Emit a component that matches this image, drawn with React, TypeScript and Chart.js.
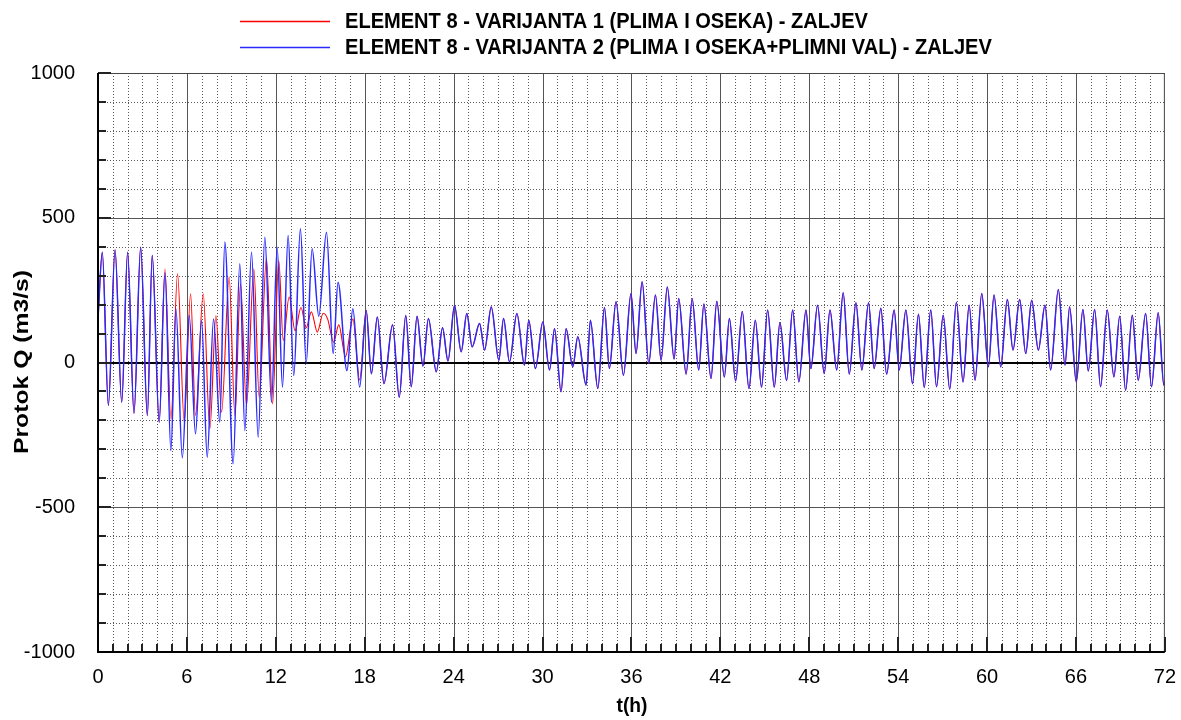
import React, { useEffect, useRef } from "react";
import { Chart, registerables } from "chart.js";
Chart.register(...registerables);

// ---- data (extrema) ----
const blueT = [
  0, 0.29, 0.7, 1.15, 1.6, 2.0, 2.43, 2.88, 3.33, 3.66, 4.13, 4.52, 4.92, 5.26, 5.69, 6.16, 6.58, 6.99, 7.37, 7.8,
  8.22, 8.56, 9.12, 9.57, 9.91, 10.36, 10.81, 11.26, 11.71, 12.09, 12.45, 12.83, 13.21, 13.66, 14.05, 14.45, 14.9, 15.42, 15.87, 16.2,
  16.8, 17.2, 17.66, 18.1, 18.45, 18.85, 19.3, 19.88, 20.33, 20.77, 21.14, 21.53, 21.93, 22.3, 22.83, 23.25, 23.62, 24.06, 24.51, 24.89,
  25.25, 25.75, 26.09, 26.54, 27.05, 27.37, 27.77, 28.27, 28.78, 29.07, 29.52, 30.02, 30.47, 30.81, 31.25, 31.59, 32.04, 32.38, 32.94, 33.23,
  33.73, 34.18, 34.51, 34.96, 35.46, 35.97, 36.31, 36.72, 37.17, 37.62, 38.0, 38.42, 38.88, 39.19, 39.69, 40.1, 40.54, 40.89, 41.37, 41.76,
  42.27, 42.61, 43.03, 43.48, 43.93, 44.36, 44.78, 45.19, 45.64, 46.02, 46.47, 46.88, 47.3, 47.78, 48.11, 48.56, 49.01, 49.4, 49.85, 50.29,
  50.7, 51.15, 51.55, 52.0, 52.38, 52.83, 53.22, 53.73, 54.07, 54.52, 54.97, 55.37, 55.76, 56.2, 56.59, 57.04, 57.48, 57.93, 58.38, 58.79,
  59.19, 59.64, 60.09, 60.47, 60.92, 61.37, 61.75, 62.2, 62.61, 63.01, 63.46, 63.91, 64.29, 64.81, 65.26, 65.57, 66.02, 66.47, 66.83, 67.26,
  67.66, 68.11, 68.56, 68.95, 69.35, 69.8, 70.2, 70.7, 71.1, 71.55, 71.93, 72.0,
];
const blueQ = [
  150, 381, -148, 389, -137, 381, -175, 398, -183, 370, -206, 310, -304, 185, -329, 162, -246, 145, -327, 150,
  -206, 416, -350, 341, -235, 381, -258, 433, -137, 398, -85, 439, -45, 462, -3, 393, 160, 450, 31, 277,
  -28, 186, -85, 180, -39, 157, -73, 130, -120, 162, -84, 160, -12, 152, -32, 120, 5, 197, 37, 169,
  54, 135, 43, 192, 8, 152, 2, 169, -9, 146, -21, 140, -26, 117, -101, 117, -15, 89, -78, 146,
  -90, 190, -21, 210, -44, 238, 31, 279, -3, 233, 8, 261, 12, 221, -40, 220, -26, 202, -55, 211,
  -50, 152, -64, 176, -90, 146, -85, 181, -85, 138, -62, 181, -67, 181, -21, 198, -38, 181, -26, 241,
  -40, 206, -26, 206, -21, 187, -40, 181, -26, 181, -73, 167, -86, 181, -84, 163, -92, 208, -67, 198,
  -61, 238, -15, 233, -15, 218, 43, 218, 31, 215, 43, 198, -26, 252, -9, 192, -67, 183, -29, 183,
  -84, 181, -50, 160, -96, 163, -61, 169, -84, 172, -78, -65,
];
// red series where it differs from the blue one (about 4.5 h to 18 h)
const redMidT = [
  4.52, 4.92, 5.37, 5.82, 6.25, 6.58, 7.1, 7.55, 7.96, 8.34, 8.85, 9.24, 9.62, 10.02, 10.52, 10.88, 11.37, 11.78, 12.2, 12.5,
  12.9, 13.3, 13.7, 14.05, 14.4, 14.8, 15.2, 15.5, 15.9, 16.25, 16.7, 17.2, 17.66,
];
const redMidQ = [
  323, -195, 306, -205, 237, -183, 237, -229, 162, -172, 295, -183, 272, -148, 323, -120, 360, -143, 352, 76,
  226, 110, 190, 120, 175, 105, 170, 150, 70, 130, 20, 150, -60,
];

const legendLabels = [
  "ELEMENT 8 - VARIJANTA 1 (PLIMA I OSEKA) - ZALJEV",
  "ELEMENT 8 - VARIJANTA 2 (PLIMA I OSEKA+PLIMNI VAL) - ZALJEV",
];
const seriesColors = ["#ff0000", "#2a2aff"];
const xTitle = "t(h)";
const yTitle = "Protok Q (m3/s)";
const xMin = 0, xMax = 72, xStep = 6, xMinorStep = 1;
const yMin = -1000, yMax = 1000, yStep = 500, yMinorStep = 100;

const FONT = '"Liberation Sans", Arial, Helvetica, sans-serif';

export default function App() {
  const ref = useRef<HTMLCanvasElement>(null);

  useEffect(() => {
    if (!ref.current) return;
    const blue = blueT.map((t, i) => ({ x: t, y: blueQ[i] }));
    const redMid = redMidT.map((t, i) => ({ x: t, y: redMidQ[i] }));
    const red = [
      ...blue.filter((p) => p.x < 4.5),
      ...redMid,
      ...blue.filter((p) => p.x > 18),
    ];

    const gridPlugin = {
      id: "customGrid",
      beforeDatasetsDraw(chart: any) {
        const { ctx, chartArea, scales } = chart;
        const { left, right, top, bottom } = chartArea;
        const xs = scales.x, ys = scales.y;
        ctx.save();
        ctx.lineWidth = 1;
        ctx.strokeStyle = "#5a5a5a";
        ctx.setLineDash([1, 2]);
        for (let h = xMin + xMinorStep; h < xMax; h += xMinorStep) {
          if (h % xStep === 0) continue;
          const px = Math.round(xs.getPixelForValue(h)) + 0.5;
          ctx.beginPath(); ctx.moveTo(px, top); ctx.lineTo(px, bottom); ctx.stroke();
        }
        for (let v = yMin + yMinorStep; v < yMax; v += yMinorStep) {
          if (v % yStep === 0) continue;
          const py = Math.round(ys.getPixelForValue(v)) + 0.5;
          ctx.beginPath(); ctx.moveTo(left, py); ctx.lineTo(right, py); ctx.stroke();
        }
        ctx.setLineDash([]);
        ctx.strokeStyle = "#555555";
        for (let h = xMin + xStep; h < xMax; h += xStep) {
          const px = Math.round(xs.getPixelForValue(h)) + 0.5;
          ctx.beginPath(); ctx.moveTo(px, top); ctx.lineTo(px, bottom); ctx.stroke();
        }
        for (let v = yMin + yStep; v < yMax; v += yStep) {
          if (v === 0) continue;
          const py = Math.round(ys.getPixelForValue(v)) + 0.5;
          ctx.beginPath(); ctx.moveTo(left, py); ctx.lineTo(right, py); ctx.stroke();
        }
        ctx.strokeStyle = "#000";
        ctx.lineWidth = 2;
        const pz = Math.round(ys.getPixelForValue(0));
        ctx.beginPath(); ctx.moveTo(left, pz); ctx.lineTo(right, pz); ctx.stroke();
        ctx.restore();
      },
      afterDatasetsDraw(chart: any) {
        const { ctx, chartArea, scales } = chart;
        const { left, right, top, bottom } = chartArea;
        const xs = scales.x, ys = scales.y;
        ctx.save();
        ctx.strokeStyle = "#444";
        ctx.lineWidth = 1;
        ctx.beginPath();
        ctx.moveTo(left, top + 0.5); ctx.lineTo(right, top + 0.5);
        ctx.moveTo(right - 0.5, top); ctx.lineTo(right - 0.5, bottom);
        ctx.stroke();
        ctx.strokeStyle = "#222";
        ctx.lineWidth = 2;
        for (let v = yMin; v <= yMax; v += yMinorStep) {
          const py = Math.round(ys.getPixelForValue(v));
          const len = v % yStep === 0 ? 13 : 8;
          ctx.beginPath(); ctx.moveTo(left, py); ctx.lineTo(left + len, py); ctx.stroke();
        }
        for (let h = xMin; h <= xMax; h += xMinorStep) {
          const px = Math.round(xs.getPixelForValue(h));
          const len = h % xStep === 0 ? 15 : 8;
          ctx.beginPath(); ctx.moveTo(px, bottom); ctx.lineTo(px, bottom - len); ctx.stroke();
        }
        ctx.strokeStyle = "#000";
        ctx.lineWidth = 2;
        ctx.beginPath();
        ctx.moveTo(left, top); ctx.lineTo(left, bottom + 1);
        ctx.moveTo(left - 1, bottom); ctx.lineTo(right, bottom);
        ctx.stroke();
        ctx.restore();
      },
      afterDraw(chart: any) {
        const { ctx } = chart;
        ctx.save();
        ctx.fillStyle = "#000";
        ctx.font = `bold 22px ${FONT}`;
        const w0 = ctx.measureText(legendLabels[0]).width;
        const sx = 523 / w0;
        const rows = [21, 47];
        legendLabels.forEach((lab, i) => {
          ctx.strokeStyle = seriesColors[i];
          ctx.lineWidth = 1.5;
          ctx.beginPath(); ctx.moveTo(240, rows[i] + 0.5); ctx.lineTo(330, rows[i] + 0.5); ctx.stroke();
          ctx.save();
          ctx.translate(345, rows[i]);
          ctx.scale(sx, 1);
          ctx.textBaseline = "middle";
          ctx.textAlign = "left";
          ctx.fillText(lab, 0, 1);
          ctx.restore();
        });
        ctx.font = `bold 21px ${FONT}`;
        const wx = ctx.measureText(xTitle).width;
        ctx.save();
        ctx.translate(632, 706);
        ctx.scale(31 / wx, 1);
        ctx.textAlign = "center";
        ctx.textBaseline = "middle";
        ctx.fillText(xTitle, 0, 0);
        ctx.restore();
        ctx.font = `bold 21px ${FONT}`;
        const wy = ctx.measureText(yTitle).width;
        ctx.save();
        ctx.translate(22, 362);
        ctx.rotate(-Math.PI / 2);
        ctx.scale(184 / wy, 1);
        ctx.textAlign = "center";
        ctx.textBaseline = "middle";
        ctx.fillText(yTitle, 0, 0);
        ctx.restore();
        ctx.restore();
      },
    };

    const chart = new Chart(ref.current, {
      type: "line",
      data: {
        datasets: [
          {
            label: legendLabels[0],
            data: red,
            borderColor: seriesColors[0],
            borderWidth: 1.1,
            pointRadius: 0,
            cubicInterpolationMode: "monotone",
            order: 1,
          },
          {
            label: legendLabels[1],
            data: blue,
            borderColor: seriesColors[1],
            borderWidth: 1.5,
            pointRadius: 0,
            cubicInterpolationMode: "monotone",
            order: 0,
          },
        ],
      },
      options: {
        responsive: false,
        animation: false,
        devicePixelRatio: 1,
        layout: { padding: { left: 0, right: 15, top: 73, bottom: 0 } },
        plugins: { legend: { display: false }, tooltip: { enabled: false }, title: { display: false } },
        scales: {
          x: {
            type: "linear",
            min: xMin,
            max: xMax,
            grid: { display: false },
            border: { display: false },
            ticks: {
              stepSize: xStep,
              autoSkip: false,
              maxRotation: 0,
              padding: 5,
              color: "#000",
              font: { family: FONT, size: 20 },
              callback: (v: any) => String(v),
            },
            afterFit: (s: any) => { s.height = 68; },
          },
          y: {
            type: "linear",
            min: yMin,
            max: yMax,
            grid: { display: false },
            border: { display: false },
            ticks: {
              stepSize: yStep,
              padding: 15,
              color: "#000",
              font: { family: FONT, size: 20 },
              callback: (v: any) => String(v),
            },
            afterFit: (s: any) => { s.width = 98; },
          },
        },
      },
      plugins: [gridPlugin],
    } as any);
    return () => chart.destroy();
  }, []);

  return (
    <div style={{ position: "fixed", left: 0, top: 0, width: 1181, height: 720, background: "#fff" }}>
      <canvas ref={ref} width={1181} height={720} style={{ display: "block" }} />
    </div>
  );
}
